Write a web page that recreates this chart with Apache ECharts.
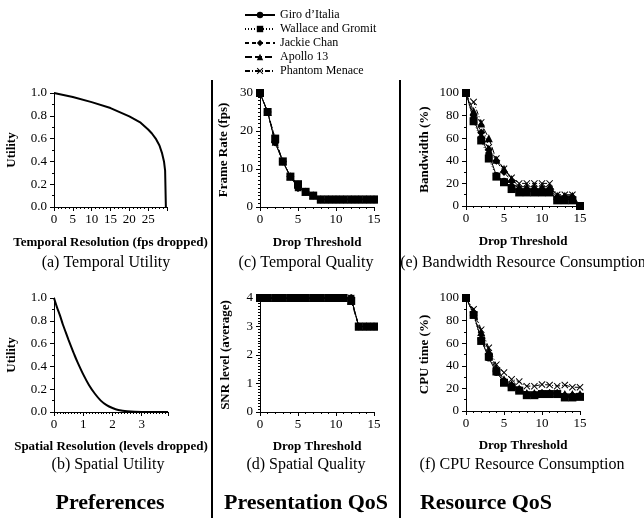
<!DOCTYPE html>
<html>
<head>
<meta charset="utf-8">
<script src="https://cdn.jsdelivr.net/npm/echarts@6/dist/echarts.min.js"></script>
<style>
html,body{margin:0;padding:0;background:#fff;}
#main{width:644px;height:518px;}
</style>
</head>
<body>
<div id="main"></div>
<script>
// (a) temporal utility curve, [fps dropped, utility]
var temporalUtil = [[0,1.0],[5,0.965],[10,0.92],[15,0.868],[20,0.795],[23,0.74],[25,0.68],[26,0.645],[27,0.60],[28,0.54],[28.7,0.47],[29.2,0.40],[29.5,0.32],[29.7,0.0]];
// (b) spatial utility curve, [levels dropped, utility]
var spatialUtil = [[0,1.0],[0.1,0.92],[0.2,0.85],[0.3,0.77],[0.4,0.70],[0.5,0.63],[0.6,0.565],[0.7,0.50],[0.8,0.44],[1.0,0.33],[1.2,0.235],[1.4,0.16],[1.6,0.10],[1.8,0.06],[2.0,0.035],[2.2,0.018],[2.5,0.006],[3.0,0.0],[3.9,0.0]];

var thresholds = [0,1,2,3,4,5,6,7,8,9,10,11,12,13,14,15];
var movies = ['Giro d\u2019Italia','Wallace and Gromit','Jackie Chan','Apollo 13','Phantom Menace'];

// (c) frame rate (fps)
var fpsGiro    = [30,25,17,12,8,5,4,3,2,2,2,2,2,2,2,2];
var fpsWallace = [30,25,18,12,8,6,4,3,2,2,2,2,2,2,2,2];
var fpsJackie  = [30,25,17,12,8,5,4,3,2,2,2,2,2,2,2,2];
var fpsApollo  = [30,25,18,12,8,6,4,3,2,2,2,2,2,2,2,2];
var fpsPhantom = [30,25,17,12,8,5,4,3,2,2,2,2,2,2,2,2];

// (d) SNR level (average)
var snrGiro    = [4,4,4,4,4,4,4,4,4,4,4,4,4,3,3,3];
var snrWallace = [4,4,4,4,4,4,4,4,4,4,4,4,3.9,3,3,3];
var snrJackie  = [4,4,4,4,4,4,4,4,4,4,4,4,4,3,3,3];
var snrApollo  = [4,4,4,4,4,4,4,4,4,4,4,4,3.9,3,3,3];
var snrPhantom = [4,4,4,4,4,4,4,4,4,4,4,4,4,3,3,3];

// (e) bandwidth (%)
var bwGiro    = [100,77,60,46,27,22,17,13,13,13,13,13,6,6,6,0];
var bwWallace = [100,75,58,42,26,21,15,12,12,12,12,12,5,5,5,0];
var bwJackie  = [100,80,65,50,40,30,22,15,15,15,15,15,8,8,8,0];
var bwApollo  = [100,84,73,60,41,33,24,17,17,17,17,17,9,9,9,0];
var bwPhantom = [100,92,74,52,42,33,25,20,20,20,20,20,10,10,10,0];

// (f) CPU time (%)
var cpuGiro    = [100,86,63,47,34,26,22,19,14,14,15,15,15,13,13,13];
var cpuWallace = [100,85,62,48,35,25,21,18,14,14,15,15,15,12,12,12.5];
var cpuJackie  = [100,87,64,50,36,27,23,19,15,15,16,16,16,14,14,14];
var cpuApollo  = [100,88,70,53,38,28,24,20,16,16,16,16,16,15,15,15];
var cpuPhantom = [100,90,72,56,41,34,28,26,22,22,23.5,23,22,23,21,21];

var FONT = '"Liberation Serif", "Times New Roman", serif';
var crossPath = 'path://M0,1 L1,0 L5,4 L9,0 L10,1 L6,5 L10,9 L9,10 L5,6 L1,10 L0,9 L4,5 Z';
var styles = [
    {symbol:'circle', size:7, type:'solid'},
    {symbol:'rect', size:8, type:[1,2]},
    {symbol:'diamond', size:8, type:[4,3]},
    {symbol:'triangle', size:8, type:[7,3]},
    {symbol:crossPath, size:7, type:[5,2,1,2]}
];

function pairs(ys){
    var out = [];
    for (var i=0;i<thresholds.length;i++) out.push([thresholds[i], ys[i]]);
    return out;
}

function valAxis(o){
    var ax = {
        type:'value', gridIndex:o.grid, min:o.min, max:o.max, interval:o.interval,
        name:o.name, nameLocation:'middle', nameGap:o.gap,
        nameTextStyle:{fontFamily:FONT, fontWeight:'bold', fontSize:13, color:'#000'},
        axisLine:{show:true, onZero:false, lineStyle:{color:'#000', width:1}},
        axisTick:{show:true, inside:false, length:4, lineStyle:{color:'#000'}},
        minorTick:{show:true, splitNumber:o.minor, length:2, lineStyle:{color:'#000'}},
        splitLine:{show:false},
        axisLabel:{fontFamily:FONT, fontSize:13, color:'#000', margin:o.margin || 6, formatter:o.fmt, showMaxLabel:true}
    };
    return ax;
}

var grids = [
    {left:54, top:93, width:113, height:114},
    {left:54, top:298, width:114, height:114},
    {left:260, top:93, width:114, height:114},
    {left:260, top:298, width:114, height:114},
    {left:466, top:93, width:114, height:113},
    {left:466, top:298, width:114, height:113}
];

var xAxes = [
    valAxis({grid:0, min:0, max:30, interval:5, minor:5, name:'Temporal Resolution (fps dropped)', gap:29,
        fmt:function(v){return v>25?'':String(v);}}),
    valAxis({grid:1, min:0, max:3.9, interval:1, minor:10, name:'Spatial Resolution (levels dropped)', gap:28,
        fmt:function(v){return (v%1===0)?String(v):'';}}),
    valAxis({grid:2, min:0, max:15, interval:5, minor:5, name:'Drop Threshold', gap:29}),
    valAxis({grid:3, min:0, max:15, interval:5, minor:5, name:'Drop Threshold', gap:28}),
    valAxis({grid:4, min:0, max:15, interval:5, minor:5, name:'Drop Threshold', gap:29}),
    valAxis({grid:5, min:0, max:15, interval:5, minor:5, name:'Drop Threshold', gap:28})
];
var yAxes = [
    valAxis({grid:0, min:0, max:1, interval:0.2, minor:2, name:'Utility', gap:36, margin:7, fmt:function(v){return v.toFixed(1);}}),
    valAxis({grid:1, min:0, max:1, interval:0.2, minor:2, name:'Utility', gap:36, margin:7, fmt:function(v){return v.toFixed(1);}}),
    valAxis({grid:2, min:0, max:30, interval:10, minor:10, name:'Frame Rate (fps)', gap:30, margin:7}),
    valAxis({grid:3, min:0, max:4, interval:1, minor:10, name:'SNR level (average)', gap:28, margin:7}),
    valAxis({grid:4, min:0, max:100, interval:20, minor:2, name:'Bandwidth (%)', gap:35, margin:7}),
    valAxis({grid:5, min:0, max:100, interval:20, minor:2, name:'CPU time (%)', gap:35, margin:7})
];

var series = [
    {type:'line', xAxisIndex:0, yAxisIndex:0, data:temporalUtil, showSymbol:false, silent:true,
        lineStyle:{color:'#000', width:2}},
    {type:'line', xAxisIndex:1, yAxisIndex:1, data:spatialUtil, showSymbol:false, silent:true, smooth:0.2,
        lineStyle:{color:'#000', width:2}}
];

var panelData = [
    [fpsGiro, fpsWallace, fpsJackie, fpsApollo, fpsPhantom],
    [snrGiro, snrWallace, snrJackie, snrApollo, snrPhantom],
    [bwGiro, bwWallace, bwJackie, bwApollo, bwPhantom],
    [cpuGiro, cpuWallace, cpuJackie, cpuApollo, cpuPhantom]
];
for (var p=0;p<panelData.length;p++){
    for (var m=0;m<movies.length;m++){
        series.push({
            name:movies[m], type:'line', xAxisIndex:p+2, yAxisIndex:p+2,
            data:pairs(panelData[p][m]),
            symbol:styles[m].symbol, symbolSize:styles[m].size,
            itemStyle:{color:'#000'},
            lineStyle:{color:'#000', width:1, type:styles[m].type}
        });
    }
}

function caption(text, x, y, size, bold){
    return {type:'text', x:x, y:y, style:{text:text, fill:'#000', font:(bold?'bold ':'')+size+'px '+FONT,
        textAlign:'center', textVerticalAlign:'middle'}};
}

var myChart = echarts.init(document.getElementById('main'));
var option = {
    animation:false,
    backgroundColor:'#fff',
    legend:{
        data:movies, orient:'vertical', left:239, top:4, itemWidth:30, itemHeight:8, itemGap:2,
        textStyle:{fontFamily:FONT, fontSize:12, color:'#000'}
    },
    grid:grids,
    xAxis:xAxes,
    yAxis:yAxes,
    series:series,
    graphic:[
        {type:'line', shape:{x1:212, y1:80, x2:212, y2:518}, style:{stroke:'#000', lineWidth:2}},
        {type:'line', shape:{x1:400, y1:80, x2:400, y2:518}, style:{stroke:'#000', lineWidth:2}},
        caption('(a) Temporal Utility', 106, 263, 16),
        caption('(c) Temporal Quality', 306, 263, 16),
        caption('(e) Bandwidth Resource Consumption', 523, 263, 16),
        caption('(b) Spatial Utility', 108, 465, 16),
        caption('(d) Spatial Quality', 306, 465, 16),
        caption('(f) CPU Resource Consumption', 522, 465, 16),
        caption('Preferences', 110, 503, 22, true),
        caption('Presentation QoS', 306, 503, 22, true),
        caption('Resource QoS', 486, 503, 22, true)
    ]
};
myChart.setOption(option);
</script>
</body>
</html>
